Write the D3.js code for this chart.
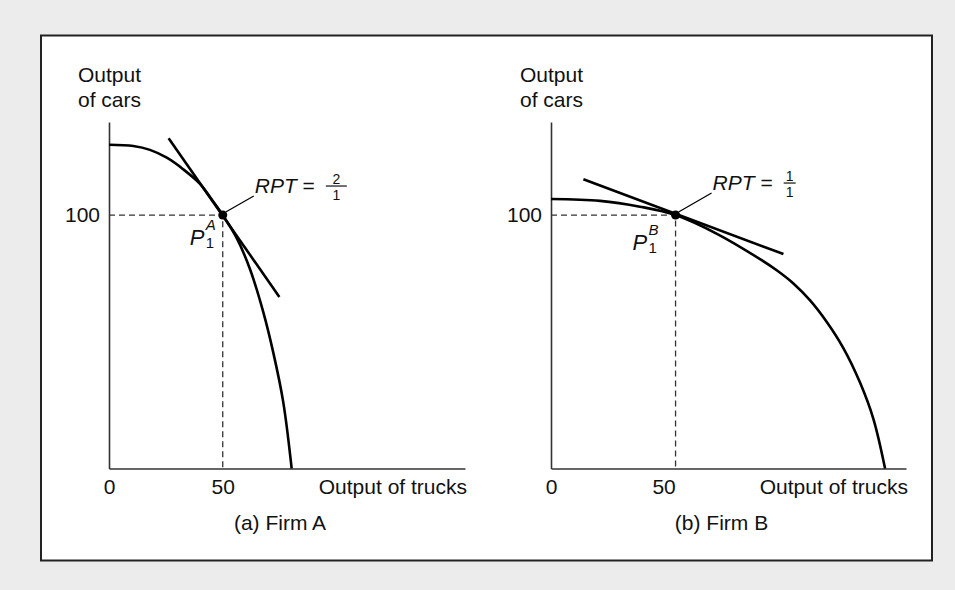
<!DOCTYPE html>
<html>
<head>
<meta charset="utf-8">
<script src="https://cdn.jsdelivr.net/npm/d3@7"></script>
<style>
  body { margin: 0; background: #ececec; }
  svg { display: block; font-family: "Liberation Sans", Arial, Helvetica, sans-serif; }
</style>
</head>
<body>
<div id="chart"></div>
<script>
// ---- data ----
const panelTitles = ["(a) Firm A", "(b) Firm B"];
const xTickValues = [0, 50];
const yTickValues = [100];
const xAxisLabel = "Output of trucks";
const yAxisLabel = ["Output", "of cars"];

// production possibilities frontiers (trucks, cars)
const ppfA_trucks = [0, 10.7, 18, 25.4, 32.7, 40, 45.8, 50, 56.1, 62, 67.8, 72.2, 76.6, 80.3];
const ppfA_cars   = [127.7, 127.2, 125.7, 122.6, 118, 112.3, 105.3, 100, 91, 78.6, 61.8, 45.8, 26.2, 0];
const ppfB_trucks = [0, 19.7, 35.7, 50, 67, 83.9, 90.6, 97.3, 104, 110.7, 117.3, 124, 129.4, 134.1];
const ppfB_cars   = [106.3, 105.6, 103.3, 100, 92.4, 82.6, 78.2, 73, 66.3, 57.8, 47.6, 34, 19.6, 0];

// tangent lines (end points)
const tangentA_trucks = [26.2, 74.9];
const tangentA_cars   = [130.3, 67.7];
const tangentB_trucks = [13, 93.3];
const tangentB_cars   = [114.1, 84.6];

// chosen points P1
const pointA = [50, 100];
const pointB = [50, 100];
const pointSup = ["A", "B"];

// RPT fractions
const rptA = ["2", "1"];
const rptB = ["1", "1"];

// ---- layout ----
const W = 955, H = 590;
const svg = d3.select("#chart").append("svg")
  .attr("width", W)
  .attr("height", H);

svg.append("rect")
  .attr("x", 41).attr("y", 35.5)
  .attr("width", 891).attr("height", 525)
  .attr("fill", "#fff")
  .attr("stroke", "#222")
  .attr("stroke-width", 2);

const panels = [
  {
    title: panelTitles[0], xs: [109, 465], xMax: 156.5,
    ppf: ppfA_trucks.map((t, i) => [t, ppfA_cars[i]]),
    tangent: tangentA_trucks.map((t, i) => [t, tangentA_cars[i]]),
    point: pointA, sup: pointSup[0], rpt: rptA,
    tickDx: 0, pOff: [-33, 30], rptOff: [32, -22], barW: 21
  },
  {
    title: panelTitles[1], xs: [551, 906], xMax: 142.5,
    ppf: ppfB_trucks.map((t, i) => [t, ppfB_cars[i]]),
    tangent: tangentB_trucks.map((t, i) => [t, tangentB_cars[i]]),
    point: pointB, sup: pointSup[1], rpt: rptB,
    tickDx: -12, pOff: [-43, 35], rptOff: [37, -25], barW: 12
  }
];

const y = d3.scaleLinear().domain([0, 136.7]).range([468.5, 122]);
const FS = 21;

panels.forEach(p => {
  const x = d3.scaleLinear().domain([0, p.xMax]).range(p.xs);
  const g = svg.append("g");

  // y axis title
  const yt = g.append("text")
    .attr("font-size", FS)
    .attr("fill", "#111");
  yAxisLabel.forEach((s, i) => {
    yt.append("tspan").attr("x", p.xs[0] - 31).attr("y", 82 + i * 24.5).text(s);
  });

  // dashed guides
  const px = x(p.point[0]), py = y(p.point[1]);
  g.append("path")
    .attr("d", `M${x(0)},${py}H${px}V${y(0)}`)
    .attr("fill", "none")
    .attr("stroke", "#333")
    .attr("stroke-width", 1.3)
    .attr("stroke-dasharray", "6,4");

  // axes
  const xAxis = g.append("g")
    .attr("transform", `translate(0,${y(0)})`)
    .call(d3.axisBottom(x).tickValues(xTickValues).tickSize(0).tickPadding(11));
  xAxis.selectAll("text").attr("dx", d => d === 0 ? 0 : p.tickDx);

  const yAxis = g.append("g")
    .attr("transform", `translate(${x(0)},0)`)
    .call(d3.axisLeft(y).tickValues(yTickValues).tickSize(0).tickPadding(9));

  [xAxis, yAxis].forEach(a => {
    a.attr("font-size", FS).attr("font-family", null);
    a.selectAll("text").attr("fill", "#111");
    a.select(".domain").attr("stroke", "#333").attr("stroke-width", 1.6);
  });

  g.append("text")
    .attr("x", p.xs[1] + 2)
    .attr("y", 494)
    .attr("text-anchor", "end")
    .attr("font-size", FS)
    .attr("fill", "#111")
    .text(xAxisLabel);

  // panel title
  g.append("text")
    .attr("x", (p.xs[0] + p.xs[1]) / 2 - 7)
    .attr("y", 530)
    .attr("text-anchor", "middle")
    .attr("font-size", FS)
    .attr("fill", "#111")
    .text(p.title);

  // curve and tangent
  g.append("path")
    .datum(p.ppf)
    .attr("d", d3.line().x(d => x(d[0])).y(d => y(d[1])).curve(d3.curveCatmullRom.alpha(0.5)))
    .attr("fill", "none")
    .attr("stroke", "#000")
    .attr("stroke-width", 2.6);

  g.append("path")
    .datum(p.tangent)
    .attr("d", d3.line().x(d => x(d[0])).y(d => y(d[1])))
    .attr("fill", "none")
    .attr("stroke", "#000")
    .attr("stroke-width", 2.6);

  g.append("circle")
    .attr("cx", px).attr("cy", py).attr("r", 4.5)
    .attr("fill", "#000");

  // P label
  const lx = px + p.pOff[0], ly = py + p.pOff[1];
  g.append("text").attr("x", lx).attr("y", ly)
    .attr("font-size", 22).attr("font-style", "italic").attr("fill", "#111")
    .text("P");
  g.append("text").attr("x", lx + 16).attr("y", ly - 15)
    .attr("font-size", 15).attr("font-style", "italic").attr("fill", "#111")
    .text(p.sup);
  g.append("text").attr("x", lx + 16).attr("y", ly + 3)
    .attr("font-size", 15).attr("fill", "#111")
    .text("1");

  // RPT label with leader
  const rx = px + p.rptOff[0], ry = py + p.rptOff[1];
  g.append("line")
    .attr("x1", px + 3).attr("y1", py - 3)
    .attr("x2", rx - 1).attr("y2", ry + 3)
    .attr("stroke", "#000").attr("stroke-width", 1.3);

  const rt = g.append("text").attr("x", rx).attr("y", ry)
    .attr("font-size", FS).attr("fill", "#111");
  rt.append("tspan").attr("font-style", "italic").text("RPT");
  rt.append("tspan").text(" =");
  const rw = rt.node().getComputedTextLength();
  const fc = rx + rw + 11 + p.barW / 2;
  g.append("text").attr("x", fc).attr("y", ry - 9.5)
    .attr("text-anchor", "middle").attr("font-size", 14).attr("fill", "#111")
    .text(p.rpt[0]);
  g.append("line")
    .attr("x1", fc - p.barW / 2).attr("x2", fc + p.barW / 2)
    .attr("y1", ry - 7).attr("y2", ry - 7)
    .attr("stroke", "#111").attr("stroke-width", 1.2);
  g.append("text").attr("x", fc).attr("y", ry + 7)
    .attr("text-anchor", "middle").attr("font-size", 14).attr("fill", "#111")
    .text(p.rpt[1]);
});
</script>
</body>
</html>
